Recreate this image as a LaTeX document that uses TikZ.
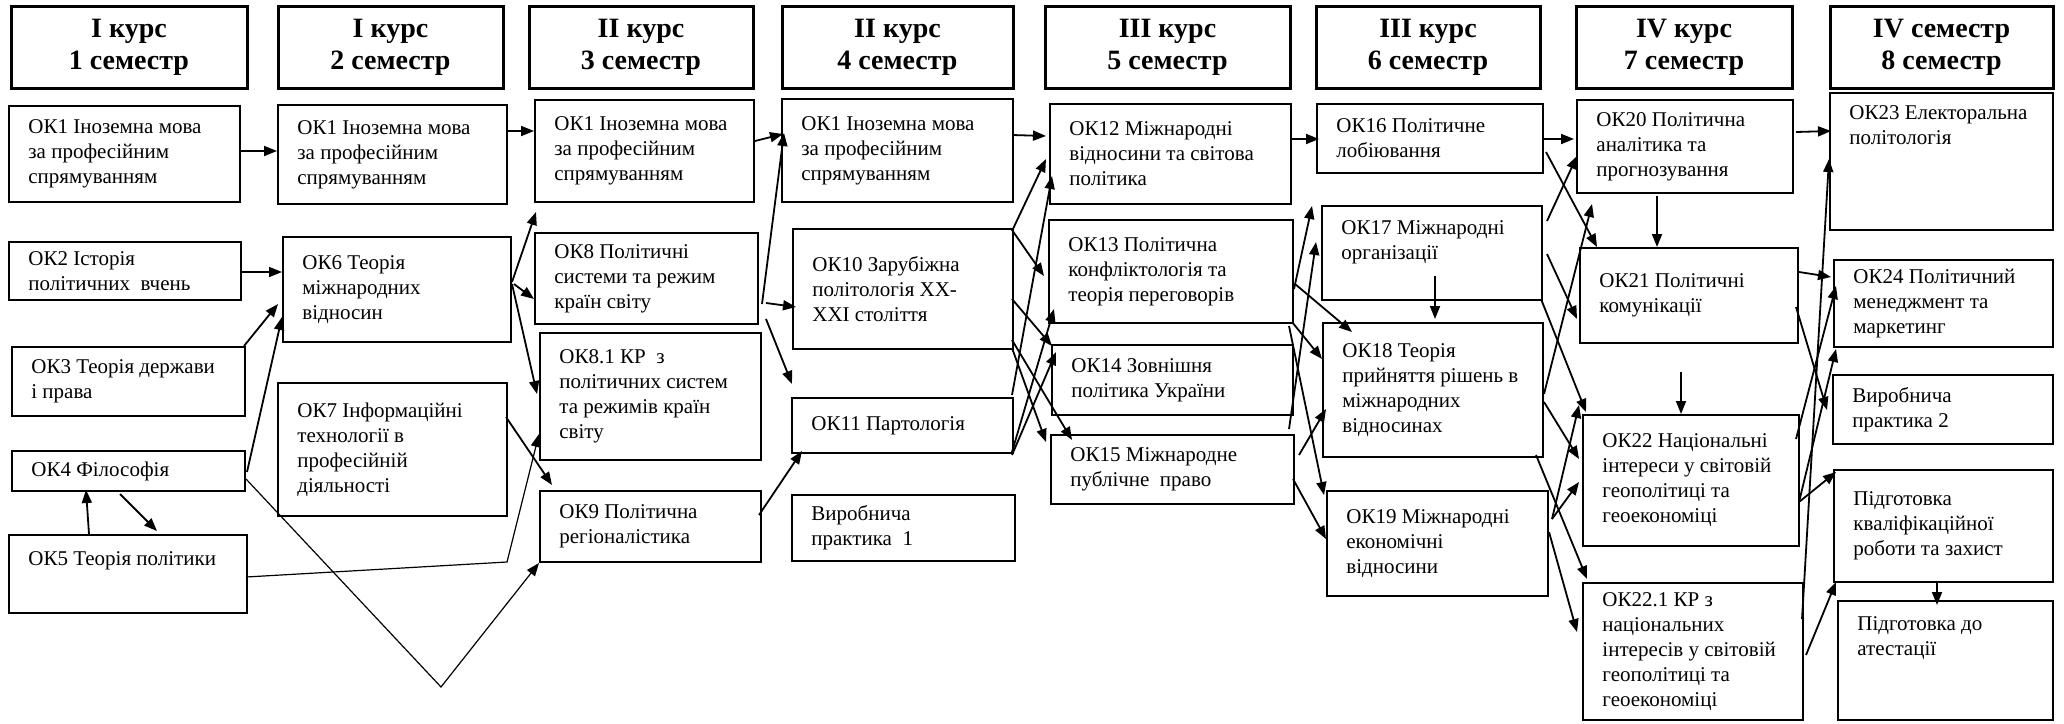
\documentclass[tikz,border=0pt]{standalone}
\usepackage{fontspec}
\setmainfont{Liberation Serif}
\usetikzlibrary{arrows.meta,fit,calc}
\tikzset{
 box/.style={draw, line width=1pt, inner sep=0pt},
 hbox/.style={draw, line width=1.5pt, inner sep=0pt},
 txt/.style={inner sep=0pt, align=left, font=\fontsize{10.5}{12.5}\selectfont},
 htxt/.style={inner sep=0pt, align=center, font=\fontsize{14}{16}\selectfont\bfseries},
 arr/.style={line width=0.9pt, -{Triangle[length=6.5pt,width=5pt]}},
 tarr/.style={line width=0.6pt, -{Triangle[length=6.5pt,width=5pt]}},
}
\newcommand\hd[6]{\node[hbox,fit={(#2,#3) (#4,#5)}] (#1) {};
 \node[htxt] (#1t) at (#1.center) {#6};}
\newcommand\bxc[6]{\node[box,fit={(#2,#3) (#4,#5)}] (#1) {};
 \node[txt,anchor=west] (#1t) at ([xshift=10pt]#1.west) {#6};}
\newcommand\bxt[7]{\node[box,fit={(#2,#3) (#4,#5)}] (#1) {};
 \node[txt,anchor=north west] (#1t) at ([shift={(20,#6)}]#1.north west) {#7};}
\newcommand\ar[7][arr]{\draw[#1] ([shift={(#3,#4)}]#2.north west) -- ([shift={(#6,#7)}]#5.north west);}
\begin{document}
\begin{tikzpicture}[x=0.5pt,y=-0.5pt]
\useasboundingbox (0,0) rectangle (2064,723);
% headers
\hd{h1}{11}{6}{247}{88}{І курс\\1 семестр}
\hd{h2}{278}{6}{503}{88}{І курс\\2 семестр}
\hd{h3}{529}{6}{753}{88}{ІІ курс\\3 семестр}
\hd{h4}{782}{6}{1013}{88}{ІІ курс\\4 семестр}
\hd{h5}{1045}{6}{1290}{88}{ІІІ курс\\5 семестр}
\hd{h6}{1316}{6}{1540}{88}{ІІІ курс\\6 семестр}
\hd{h7}{1576}{6}{1792}{88}{IV курс\\7 семестр}
\hd{h8}{1830}{6}{2053}{88}{IV семестр\\8 семестр}
% column 1
\bxc{ok1a}{9}{106}{240}{202}{ОК1 Іноземна мова\\за професійним\\спрямуванням}
\bxc{ok2}{9}{242}{241}{300}{ОК2 Історія\\політичних\ \ вчень}
\bxc{ok3}{12}{347}{245}{416}{ОК3 Теорія держави\\і права}
\bxc{ok4}{12}{451}{245}{491}{ОК4 Філософія}
\bxt{ok5}{9}{535}{247}{613}{17}{ОК5 Теорія політики}
% column 2
\bxc{ok1b}{278}{105}{507}{204}{ОК1 Іноземна мова\\за професійним\\спрямуванням}
\bxc{ok6}{283}{237}{511}{342}{ОК6 Теорія\\міжнародних\\відносин}
\bxc{ok7}{278}{383}{507}{516}{ОК7 Інформаційні\\технології в\\професійній\\діяльності}
% column 3
\bxc{ok1c}{535}{100}{754}{202}{ОК1 Іноземна мова\\за професійним\\спрямуванням}
\bxc{ok8}{535}{233}{758}{324}{ОК8 Політичні\\системи та режим\\країн світу}
\bxc{ok81}{540}{333}{761}{460}{ОК8.1 КР\ \ з\\політичних систем\\та режимів країн\\світу}
\bxc{ok9}{540}{491}{761}{562}{ОК9 Політична\\регіоналістика}
% column 4
\bxc{ok1d}{782}{99}{1013}{202}{ОК1 Іноземна мова\\за професійним\\спрямуванням}
\bxc{ok10}{793}{229}{1013}{349}{ОК10 Зарубіжна\\політологія ХХ-\\ХХІ століття}
\bxc{ok11}{792}{398}{1013}{453}{ОК11 Партологія}
\bxc{vp1}{792}{495}{1015}{561}{Виробнича\\практика\ \ 1}
% column 5
\bxc{ok12}{1050}{104}{1291}{204}{ОК12 Міжнародні\\відносини та світова\\політика}
\bxc{ok13}{1049}{220}{1293}{323}{ОК13 Політична\\конфліктологія та\\теорія переговорів}
\bxc{ok14}{1052}{345}{1293}{415}{ОК14 Зовнішня\\політика України}
\bxc{ok15}{1051}{435}{1294}{504}{ОК15 Міжнародне\\публічне\ \ право}
% column 6
\bxc{ok16}{1317}{104}{1543}{173}{ОК16 Політичне\\лобіювання}
\bxt{ok17}{1322}{206}{1542}{300}{15}{ОК17 Міжнародні\\організації}
\bxc{ok18}{1323}{323}{1543}{457}{ОК18 Теорія\\прийняття рішень в\\міжнародних\\відносинах}
\bxc{ok19}{1327}{491}{1548}{596}{ОК19 Міжнародні\\економічні\\відносини}
% column 7
\bxc{ok20}{1577}{100}{1793}{193}{ОК20 Політична\\аналітика та\\прогнозування}
\bxc{ok21}{1580}{248}{1798}{343}{ОК21 Політичні\\комунікації}
\bxc{ok22}{1583}{415}{1799}{546}{ОК22 Національні\\інтереси у світовій\\геополітиці та\\геоекономіці}
\bxc{ok221}{1583}{583}{1803}{720}{ОК22.1 КР з\\національних\\інтересів у світовій\\геополітиці та\\геоекономіці}
% column 8
\bxt{ok23}{1830}{93}{2053}{230}{13}{ОК23 Електоральна\\політологія}
\bxc{ok24}{1834}{260}{2053}{347}{ОК24 Політичний\\менеджмент та\\маркетинг}
\bxc{vp2}{1833}{375}{2053}{444}{Виробнича\\практика 2}
\bxc{pkr}{1834}{470}{2053}{582}{Підготовка\\кваліфікаційної\\роботи та захист}
\bxt{pa}{1838}{601}{2053}{720}{16}{Підготовка до\\атестації}
% corners of bent connectors
\coordinate (v1) at (441,687);
\coordinate (v2) at (507,562);
% col1 -> col2
\ar{ok1a}{231}{46}{ok1b}{0}{47}
\ar{ok2}{232}{31}{ok6}{0}{36}
\ar{ok3}{233}{0}{ok6}{-4}{68}
\ar{ok4}{236}{22}{ok6}{0}{81}
\ar{ok5}{81}{0}{ok4}{75}{40}
\ar{ok4}{109}{44}{ok5}{149}{-3}
\draw[tarr] ([shift={(235,29)}]ok4.north west) -- (v1) -- (ok9.south west);
\draw[tarr] ([shift={(238,43)}]ok5.north west) -- (v2) -- ([shift={(0,102)}]ok81.north west);
% col2 -> col3
\ar{ok1b}{229}{27}{ok1c}{0}{32}
\ar{ok6}{230}{46}{ok1c}{2}{113}
\ar{ok6}{232}{48}{ok8}{0}{67}
\ar{ok6}{230}{48}{ok81}{-2}{62}
\ar{ok7}{229}{35}{ok9}{13}{-5}
% col3 -> col4
\ar{ok1c}{221}{42}{ok1d}{2}{36}
\ar{ok8}{228}{72}{ok1d}{3}{35}
\ar{ok8}{232}{71}{ok10}{4}{79}
\ar{ok8}{232}{87}{ok11}{1}{-13}
\ar{ok9}{220}{25}{ok11}{11}{54}
% col4 -> col5
\ar{ok1d}{231}{37}{ok12}{-3}{33}
\ar{ok10}{220}{3}{ok12}{-3}{56}
\ar{ok11}{221}{-2}{ok12}{3}{73}
\ar{ok10}{220}{2}{ok13}{-4}{57}
\ar{ok11}{221}{55}{ok13}{6}{90}
\ar{ok10}{220}{71}{ok14}{1}{2}
\ar{ok11}{221}{58}{ok14}{5}{8}
\ar{ok10}{220}{120}{ok15}{-4}{8}
\ar{ok10}{220}{112}{ok15}{22}{6}
% col5 -> col6
\ar{ok12}{243}{36}{ok16}{3}{36}
\ar{ok13}{246}{70}{ok17}{-9}{1}
\ar{ok15}{239}{-5}{ok17}{-5}{37}
\ar{ok13}{247}{65}{ok18}{30}{10}
\ar{ok13}{244}{103}{ok18}{0}{37}
\ar{ok13}{241}{107}{ok19}{-2}{5}
\ar{ok15}{249}{21}{ok18}{4}{87}
\ar{ok15}{243}{45}{ok19}{0}{49}
% col6 -> col7
\ar{ok16}{226}{36}{ok20}{-2}{40}
\ar{ok16}{230}{49}{ok21}{18}{0}
\ar{ok17}{226}{16}{ok20}{1}{57}
\ar{ok17}{226}{49}{ok21}{-2}{72}
\ar{ok17}{220}{94}{ok22}{4}{-2}
\ar{ok17}{114}{71}{ok18}{113}{-3}
\ar{ok18}{222}{72}{ok20}{16}{105}
\ar{ok18}{222}{80}{ok22}{-3}{45}
\ar{ok19}{226}{29}{ok22}{-3}{-9}
\ar{ok19}{226}{29}{ok22}{-3}{68}
\ar{ok18}{214}{133}{ok221}{5}{-3}
\ar{ok19}{223}{42}{ok221}{-5}{50}
\ar{ok20}{81}{97}{ok21}{78}{0}
\ar{ok21}{102}{125}{ok22}{99}{0}
% col7 -> col8
\ar{ok20}{220}{33}{ok23}{2}{39}
\ar{ok221}{220}{37}{ok23}{0}{67}
\ar{ok21}{220}{25}{ok24}{-2}{18}
\ar{ok21}{217}{60}{vp2}{-5}{36}
\ar{ok22}{214}{25}{ok24}{3}{27}
\ar{ok22}{217}{88}{ok24}{3}{90}
\ar{ok22}{217}{88}{pkr}{3}{3}
\ar{ok221}{224}{73}{pkr}{3}{113}
\ar{pkr}{104}{112}{pa}{100}{5}
\end{tikzpicture}
\end{document}
